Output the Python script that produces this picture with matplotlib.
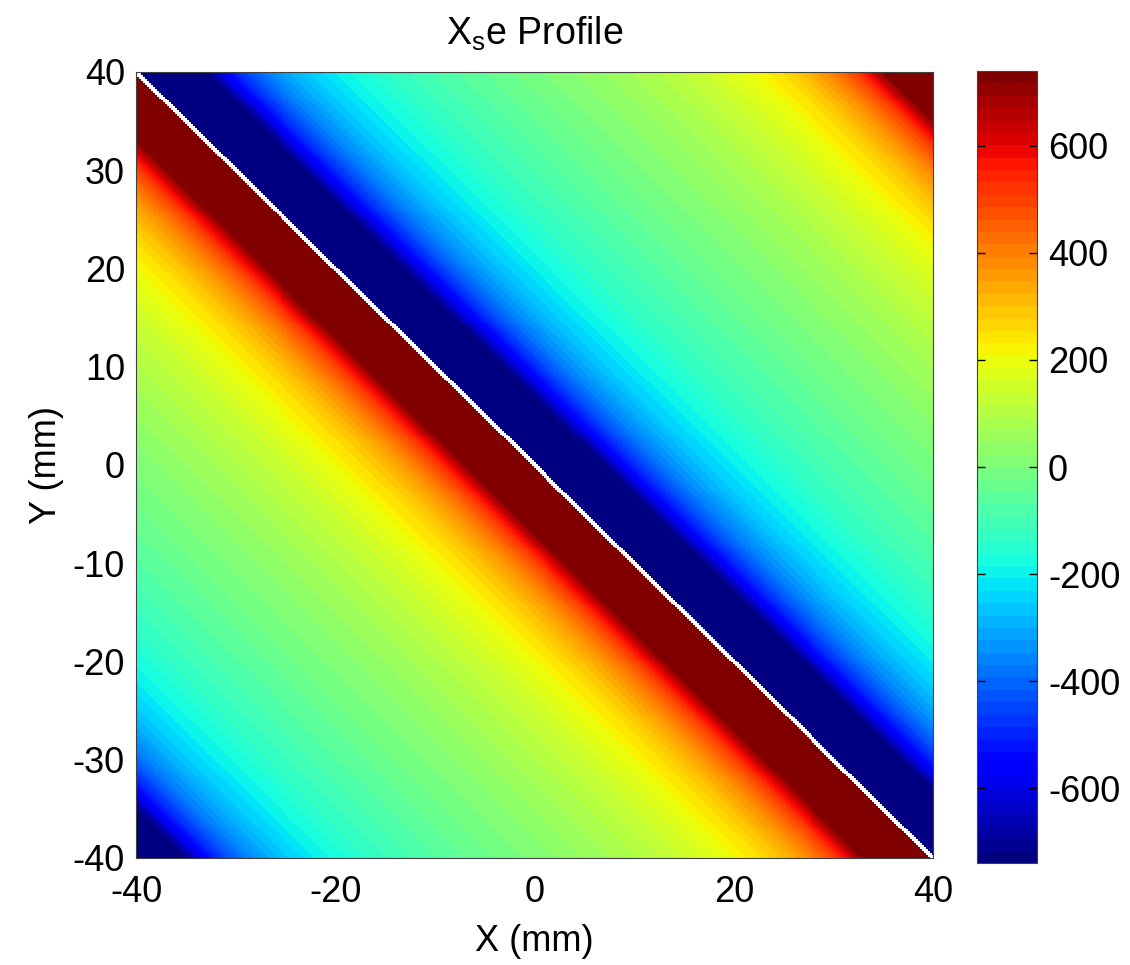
import numpy as np
import matplotlib
matplotlib.use("Agg")
import matplotlib.pyplot as plt

plt.rcParams['font.family'] = ['Liberation Sans', 'DejaVu Sans']
plt.rcParams['mathtext.fontset'] = 'custom'
plt.rcParams['mathtext.rm'] = 'Liberation Sans'
plt.rcParams['axes.unicode_minus'] = False

# grid (mm) and profile parameters
x_mm = np.linspace(-40, 40, 401)
y_mm = np.linspace(-40, 40, 401)
amplitude = 200.0     # scale of the cot profile
period = 82.0         # mm, spacing of the singular lines along x + y
clim = (-740, 740)
cbar_ticks = [-600, -400, -200, 0, 200, 400, 600]
axis_ticks = [-40, -20, 0, 20, 40]
y_ticks = [-40, -30, -20, -10, 0, 10, 20, 30, 40]

X, Y = np.meshgrid(x_mm, y_mm)
s = X + Y
step = x_mm[1] - x_mm[0]
with np.errstate(divide='ignore', invalid='ignore'):
    Z = -amplitude / np.tan(np.pi * s / period)
# undefined along the singular line, left blank
Z = np.ma.masked_where(np.abs(s) < step * 1.01, Z)

fig = plt.figure(figsize=(11.3, 9.65), dpi=100)
ax = fig.add_axes([0.1204, 0.1109, 0.7053, 0.8145])
cax = fig.add_axes([0.8646, 0.1057, 0.0531, 0.8207])

cmap = plt.get_cmap('jet', 64)
mesh = ax.pcolormesh(x_mm, y_mm, Z, cmap=cmap, vmin=clim[0], vmax=clim[1],
                     shading='nearest', rasterized=True)
ax.set_facecolor('white')
ax.set_xlim(-40, 40)
ax.set_ylim(-40, 40)
ax.set_xticks(axis_ticks)
ax.set_yticks(y_ticks)
ax.tick_params(length=0, labelsize=26, pad=8)
ax.tick_params(axis='x', pad=12)
for sp in ax.spines.values():
    sp.set_color('#404040')
    sp.set_linewidth(0.8)

ax.set_title(r'X$\mathregular{_s}$e Profile', fontsize=27, pad=20)
ax.set_xlabel('X (mm)', fontsize=26, labelpad=10)
ax.set_ylabel('Y (mm)', fontsize=26, labelpad=6)

cb = fig.colorbar(mesh, cax=cax, ticks=cbar_ticks)
cb.outline.set_edgecolor('#404040')
cb.outline.set_linewidth(0.8)
cax.tick_params(direction='in', length=6, width=1, labelsize=26, pad=8,
                left=True, right=True)

fig.savefig('out.png', dpi=100)
